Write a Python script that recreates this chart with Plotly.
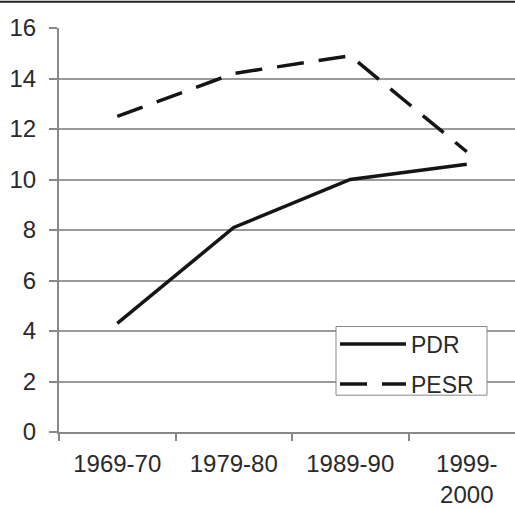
import plotly.graph_objects as go

categories = ["1969-70", "1979-80", "1989-90", "1999-<br>2000"]
pdr = [4.3, 8.1, 10.0, 10.6]
pesr = [12.5, 14.2, 14.9, 11.1]
y_ticks = [0, 2, 4, 6, 8, 10, 12, 14, 16]

xpos = list(range(len(categories)))
font = dict(family="Liberation Sans, Arial, sans-serif", size=24, color="#2a2a2a")

# pixel helpers for paper coords (plot area: x 59..515, y 28..434)
def px(x):
    return (x - 59) / 456

def py(y):
    return (434 - y) / 406

fig = go.Figure()
fig.add_trace(go.Scatter(x=xpos, y=pdr, mode="lines", name="PDR", legendgroup="a",
                         line=dict(color="#151515", width=3.5)))
fig.add_trace(go.Scatter(x=xpos, y=pesr, mode="lines", name="PESR", legendgroup="b",
                         line=dict(color="#151515", width=3.5, dash="27px,15px")))

fig.update_layout(
    width=515, height=508,
    margin=dict(l=59, r=0, t=28, b=74),
    paper_bgcolor="white", plot_bgcolor="white",
    font=font,
    showlegend=True,
    legend=dict(x=px(335), y=py(324), xanchor="left", yanchor="top",
                bgcolor="rgba(0,0,0,0)", borderwidth=0,
                font=dict(size=23, color="#2a2a2a"), itemwidth=66,
                tracegroupgap=7, traceorder="grouped"),
    xaxis=dict(range=[-0.5, 3.414], tickvals=xpos, ticktext=categories,
               showgrid=False, zeroline=False, ticks="", ticklen=0,
               showline=True, linecolor="#888", linewidth=2,
               minor=dict(tickvals=[-0.5, 0.5, 1.5, 2.5], ticks="outside",
                          ticklen=7, tickcolor="#888", tickwidth=1.5, showgrid=False),
               tickfont=font, ticklabelstandoff=9, fixedrange=True),
    yaxis=dict(range=[0, 16], tickvals=y_ticks, showgrid=True,
               gridcolor="#9a9a9a", gridwidth=1.5, zeroline=False,
               showline=True, linecolor="#888", linewidth=2,
               ticks="outside", ticklen=8, tickcolor="#888", tickwidth=1.5,
               tickfont=font, ticklabelstandoff=8, fixedrange=True),
    shapes=[
        dict(type="rect", xref="paper", yref="paper", layer="above",
             x0=px(336), x1=px(487), y0=py(397), y1=py(328),
             fillcolor="white", line=dict(color="#888", width=1)),
        dict(type="rect", xref="paper", yref="paper", layer="above",
             x0=px(0), x1=px(515), y0=py(2.5), y1=py(0.5),
             fillcolor="#222", line=dict(width=0)),
    ],
)

fig.write_html("out.html", config={"displayModeBar": False},
               post_script="document.body.style.margin='0';")
